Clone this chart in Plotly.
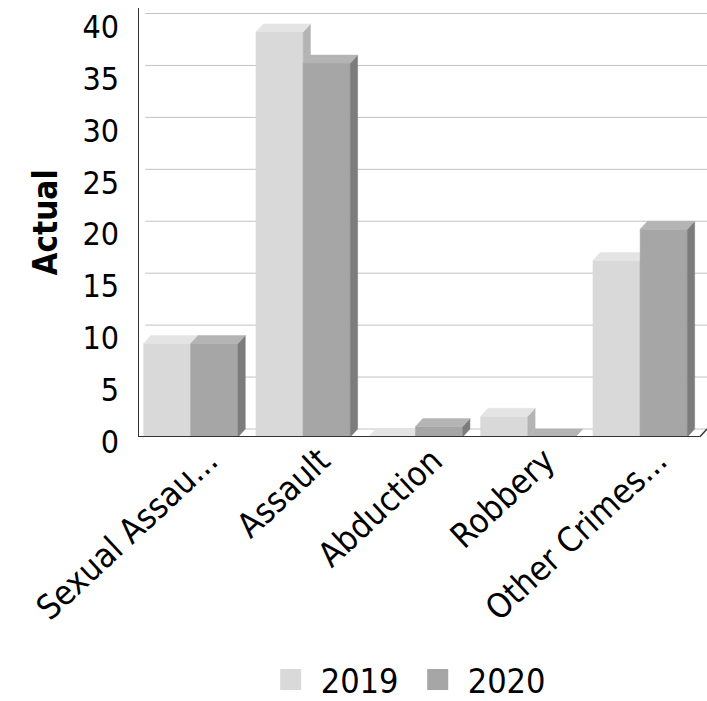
import plotly.graph_objects as go

# ---- data ----
categories = ["Sexual Assau...", "Assault", "Abduction", "Robbery", "Other Crimes..."]
series_names = ["2019", "2020"]
values_2019 = [9, 39, 0, 2, 17]
values_2020 = [9, 36, 1, 0, 20]
y_ticks = [0, 5, 10, 15, 20, 25, 30, 35, 40]

# ---- style ----
DX = 0.065   # 3D depth in x units
DY = 0.77    # 3D depth in y units
W = 0.42     # bar width
S = 0.03     # shift of front group to the left
front_colors = ["#d9d9d9", "#a6a6a6"]
side_colors = ["#b4b4b4", "#7c7c7c"]
top_colors = ["#e4e4e4", "#b4b4b4"]
FONT = "DejaVu Sans Condensed, DejaVu Sans"

fig = go.Figure()

all_values = [values_2019, values_2020]
for k, vals in enumerate(all_values):
    fx, fy, sx, sy, tx, ty = [], [], [], [], [], []
    for i, v in enumerate(vals):
        x0 = i - S - W + k * W
        x1 = x0 + W
        fx += [x0, x1, x1, x0, x0, None]
        fy += [0, 0, v, v, 0, None]
        sx += [x1, x1 + DX, x1 + DX, x1, x1, None]
        sy += [0, DY, v + DY, v, 0, None]
        tx += [x0, x1, x1 + DX, x0 + DX, x0, None]
        ty += [v, v, v + DY, v + DY, v, None]
    for xs, ys, col in ((fx, fy, front_colors[k]), (sx, sy, side_colors[k]), (tx, ty, top_colors[k])):
        fig.add_trace(go.Scatter(x=xs, y=ys, mode="lines", fill="toself",
                                 fillcolor=col, line=dict(color=col, width=0.5),
                                 showlegend=False, hoverinfo="skip"))

# legend entries
for k, name in enumerate(series_names):
    fig.add_trace(go.Scatter(x=[None], y=[None], mode="markers", name=name,
                             marker=dict(symbol="square", size=20, color=front_colors[k],
                                         line=dict(color=front_colors[k], width=8))))

shapes = []
x_left = -0.5
x_right = len(categories) - 0.5
for t in y_ticks:
    shapes.append(dict(type="line", xref="x", yref="y", x0=x_left + DX, x1=x_right + DX,
                       y0=t + DY, y1=t + DY, line=dict(color="#c2c2c2", width=1), layer="below"))
shapes.append(dict(type="line", xref="x", yref="y", x0=x_left, x1=x_right, y0=0, y1=0,
                   line=dict(color="#333333", width=2), layer="above"))
shapes.append(dict(type="line", xref="x", yref="y", x0=x_right, x1=x_right + DX, y0=0, y1=DY,
                   line=dict(color="#333333", width=1.5), layer="above"))
shapes.append(dict(type="line", xref="x", yref="paper", x0=x_left, x1=x_left, y0=0, y1=1.0,
                   line=dict(color="#333333", width=2), layer="above"))

fig.update_layout(
    width=707, height=701,
    margin=dict(l=138, r=0, t=8, b=264, autoexpand=False),
    paper_bgcolor="white", plot_bgcolor="white",
    font=dict(family=FONT, color="#000000"),
    shapes=shapes,
    showlegend=True,
    legend=dict(orientation="h", x=0.474, xanchor="center", y=-0.566, yanchor="middle",
                font=dict(size=34, family=FONT), itemsizing="trace", itemwidth=50,
                entrywidth=82, entrywidthmode="pixels"),
    xaxis=dict(range=[x_left, x_right + DX], tickmode="array",
               tickvals=list(range(len(categories))), ticktext=categories,
               tickangle=-43, tickfont=dict(size=34, family=FONT),
               ticklabelshift=14, ticklabelstandoff=-4, automargin=False,
               showgrid=False, zeroline=False, showline=False, ticks=""),
    yaxis=dict(range=[0, 41.3], tickmode="array", tickvals=y_ticks,
               ticktext=[str(t) for t in y_ticks],
               tickfont=dict(size=32, family=FONT), ticklabelstandoff=18, ticklabelshift=5,
               ticklabeloverflow="allow", automargin=False,
               showgrid=False, zeroline=False, showline=False, ticks="",
               title=dict(text="<b>Actual</b>", font=dict(size=33, family=FONT), standoff=14)),
)

fig.write_html("out.html")
